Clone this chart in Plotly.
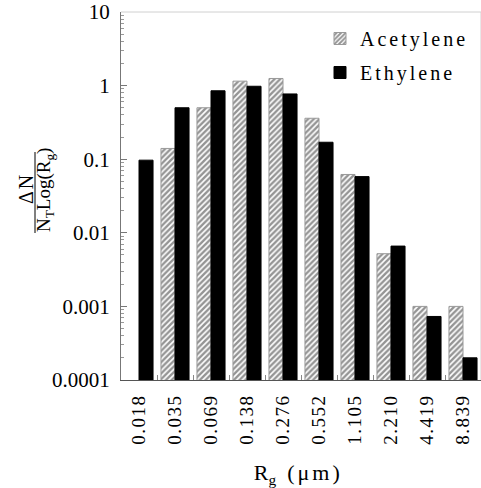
import plotly.graph_objects as go

# ---- data ----
radius_labels = ["0.018", "0.035", "0.069", "0.138", "0.276",
                 "0.552", "1.105", "2.210", "4.419", "8.839"]
acetylene = [None, 0.14, 0.5, 1.15, 1.25, 0.36, 0.062, 0.0052, 0.001, 0.001]
ethylene = [0.097, 0.5, 0.85, 0.98, 0.77, 0.17, 0.058, 0.0066, 0.00073, 0.0002]
y_tick_vals = [0.0001, 0.001, 0.01, 0.1, 1, 10]
y_tick_text = ["0.0001", "0.001", "0.01", "0.1", "1", "10"]

SERIF = "Liberation Serif"
W, H = 481, 488
L, R, T, B = 121, 0, 12, 108
PW, PH = W - L - R, H - T - B


def px_x(px):
    return (px - L) / PW


def px_y(py):
    return (T + PH - py) / PH


def sp(s, ls):
    return '<span style="letter-spacing:%spx">%s</span>' % (ls, s)


fig = go.Figure()
fig.add_trace(go.Bar(
    x=radius_labels, y=acetylene, name=sp("Acetylene", 3),
    legendgroup="a",
    marker=dict(color="white",
                line=dict(color="#999999", width=1),
                pattern=dict(shape="/", size=4, solidity=0.6,
                             fgcolor="#2a2a2a", bgcolor="white")),
))
fig.add_trace(go.Bar(
    x=radius_labels, y=ethylene, name=sp("Ethylene", 3),
    legendgroup="e",
    marker=dict(color="black", line=dict(color="black", width=1)),
))

fig.update_layout(
    width=W, height=H,
    margin=dict(l=L, r=R, t=T, b=B, pad=0),
    paper_bgcolor="white", plot_bgcolor="white",
    barmode="group", bargap=0.22, bargroupgap=0,
    font=dict(family=SERIF, color="black", size=19),
    showlegend=True,
    legend=dict(x=px_x(320), y=px_y(19), xanchor="left", yanchor="top",
                bgcolor="rgba(0,0,0,0)", font=dict(size=20, family=SERIF),
                traceorder="grouped", tracegroupgap=5,
                itemwidth=30),
)

fig.update_xaxes(
    type="category", range=[-0.5, 9.5],
    tickmode="array", tickvals=radius_labels,
    ticktext=[sp(t, 1.5) for t in radius_labels],
    tickangle=-90, tickfont=dict(size=19, family=SERIF),
    tickson="boundaries", ticks="inside", ticklen=5, tickcolor="#888",
    showline=True, linecolor="#555", linewidth=1,
    showgrid=False, zeroline=False,
    ticklabelstandoff=6,
    title=dict(text="R<sub>g</sub>&nbsp;&nbsp;" + sp("(μm)", 3) + "&nbsp;",
               font=dict(size=22, family=SERIF), standoff=24),
)
fig.update_yaxes(
    type="log", range=[-4, 1],
    tickmode="array", tickvals=y_tick_vals,
    ticktext=y_tick_text,
    tickfont=dict(size=21, family=SERIF),
    ticks="inside", ticklen=6, tickcolor="#777",
    minor=dict(ticks="inside", ticklen=3, tickcolor="#999", dtick="D1",
               showgrid=False),
    showline=True, linecolor="#777", linewidth=1,
    showgrid=False, zeroline=False,
    ticklabelstandoff=6,
)

# faint top and right frame lines
fig.add_shape(type="line", xref="paper", yref="paper", x0=0, x1=1, y0=1, y1=1,
              line=dict(color="#d0d0d0", width=1))
fig.add_shape(type="line", xref="paper", yref="paper", x0=1, x1=1, y0=0, y1=1,
              line=dict(color="#d0d0d0", width=1))

# y-axis title as a fraction
fig.add_annotation(text=sp("ΔN", 2), xref="paper", yref="paper",
                   x=px_x(26), y=px_y(189), xanchor="center", yanchor="middle",
                   textangle=-90, showarrow=False,
                   font=dict(size=20, family=SERIF))
fig.add_shape(type="line", xref="paper", yref="paper",
              x0=px_x(35), x1=px_x(35), y0=px_y(152), y1=px_y(233),
              line=dict(color="black", width=1))
fig.add_annotation(text="N<sub>T</sub>Log(R<sub>g</sub>)", xref="paper", yref="paper",
                   x=px_x(45), y=px_y(190), xanchor="center", yanchor="middle",
                   textangle=-90, showarrow=False,
                   font=dict(size=19, family=SERIF))

fig.write_html("out.html")
